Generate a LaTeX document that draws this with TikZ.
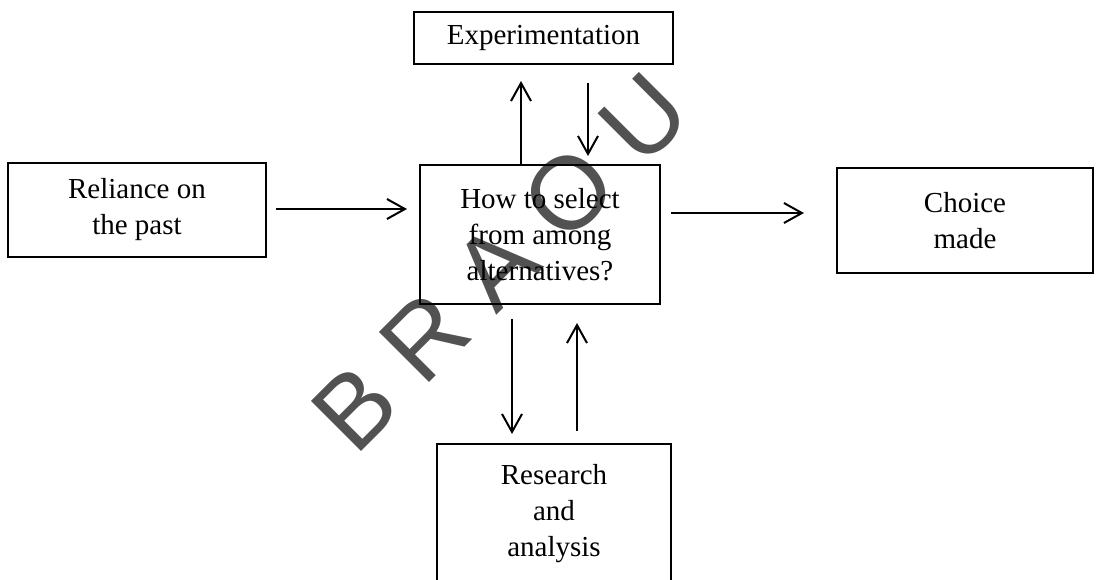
\documentclass[tikz,border=0pt]{standalone}
\usepackage{fontspec}
\setmainfont{Liberation Serif}
\newfontfamily\markfont{Liberation Sans}
\usetikzlibrary{arrows.meta,calc}
\definecolor{markgray}{RGB}{82,82,82}
\begin{document}
\begin{tikzpicture}[x=0.5pt,y=-0.5pt,
  box/.style={draw,line width=1pt,inner sep=0pt,align=center,
    font=\fontsize{14.5pt}{18pt}\selectfont},
  arr/.style={line width=1pt,-{Straight Barb[length=9pt,width=10pt,line width=1pt]}}]
\useasboundingbox (0,0) rectangle (1097,579);

% diagonal watermark lettering behind the chart
\node[rotate=45,text=markgray,inner sep=0pt,
  font=\markfont\fontsize{51.5pt}{60pt}\selectfont] (mark) at (500,262) {B R A O U};

% boxes
\node[box,minimum width=129.5pt,minimum height=26pt]  (exp) at (543.5,38)  {Experimentation};
\node[box,minimum width=129pt,minimum height=47pt]    (rel) at (137,210)   {Reliance on\\the past};
\node[box,minimum width=120pt,minimum height=69.5pt]  (ctr) at (540,234.5) {How to select\\from among\\alternatives?};
\node[box,minimum width=128pt,minimum height=52.5pt]  (cho) at (965,220.5) {Choice\\made};
\node[box,minimum width=117pt,minimum height=70pt]    (res) at (554,514)   {Research\\and\\analysis};

% connectors
\draw[arr,shorten <=4.5pt,shorten >=6pt] ($(rel.east)+(0,-1)$) coordinate (r1) -- (r1 -| ctr.west);
\draw[arr,shorten <=5pt,shorten >=16pt] ($(ctr.east)+(0,-21.5)$) coordinate (c1) -- (c1 -| cho.west);
\draw[arr,shorten >=8pt] ($(ctr.north)+(-19,0)$) coordinate (u1) -- (u1 |- exp.south);
\draw[arr,shorten <=9pt,shorten >=4pt] ($(exp.south)+(44.5,0)$) coordinate (d1) -- (d1 |- ctr.north);
\draw[arr,shorten <=7pt,shorten >=4.5pt] ($(ctr.south)+(-28,0)$) coordinate (d2) -- (d2 |- res.north);
\draw[arr,shorten <=6pt,shorten >=9pt] ($(res.north)+(23,0)$) coordinate (u2) -- (u2 |- ctr.south);
\end{tikzpicture}
\end{document}
